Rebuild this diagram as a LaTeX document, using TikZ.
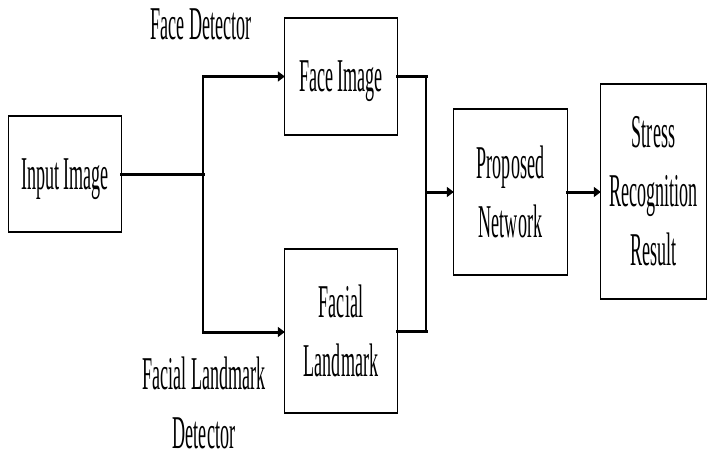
\documentclass[tikz,border=0pt]{standalone}
\usepackage{fontspec}
\setmainfont[FakeStretch=0.385]{Liberation Serif}
\usetikzlibrary{arrows.meta}
\begin{document}
\begin{tikzpicture}[x=1pt,y=-1pt,
  font=\fontsize{47}{59}\selectfont,
  blk/.style={draw=none, inner sep=0pt, align=center},
  hl/.style={line width=3pt, line cap=rect},
  vl/.style={line width=1.5pt},
  he/.style={line width=2.2pt, line cap=rect},
  ve/.style={line width=1.1pt},
  arr/.style={-{Triangle[length=7pt,width=10pt]}},
  lbl/.style={inner sep=0pt, align=center}]
\useasboundingbox (0,0) rectangle (707,455);
% boxes
\node[blk, minimum width=112pt, minimum height=116pt, text depth=0pt] (in) at (65,174) {Input Image};
\node[blk, minimum width=112pt, minimum height=116pt, text depth=0pt] (face) at (341,76.5) {Face Image};
\node[blk, minimum width=112pt, minimum height=164pt] (land) at (341,331) {Facial\\Landmark};
\node[blk, minimum width=113pt, minimum height=166pt] (net) at (510.5,192) {Proposed\\Network};
\node[blk, minimum width=105pt, minimum height=215pt] (res) at (653.5,191.5) {Stress\\Recognition\\Result};
\foreach \n in {in,face,land,net,res}{
  \draw[ve] (\n.north west) -- (\n.south west);
  \draw[ve] (\n.north east) -- (\n.south east);
  \draw[he] (\n.north west) -- (\n.north east);
  \draw[he] (\n.south west) -- (\n.south east);
}
% labels
\node[lbl] (fd) at (201,24.5) {Face Detector};
\node[lbl] (fld) at (204,403) {Facial Landmark\\Detector};
% connectors
\coordinate (s) at (203,174);
\coordinate (st) at (203,76.5);
\coordinate (sb) at (203,332);
\coordinate (m) at (426,192);
\draw[hl] (in.east) -- (s);
\draw[vl] (st) -- (sb);
\draw[hl,arr] (st) -- (face.west);
\draw[hl,arr] (sb) -- (land.west |- sb);
\draw[hl] (face.east) -- (face.east -| m);
\draw[hl] (land.east) -- (land.east -| m);
\draw[vl] (face.east -| m) -- (land.east -| m);
\draw[hl,arr] (m) -- (net.west |- m);
\draw[hl,arr] (net.east) -- (res.west |- net.east);
\end{tikzpicture}
\end{document}
